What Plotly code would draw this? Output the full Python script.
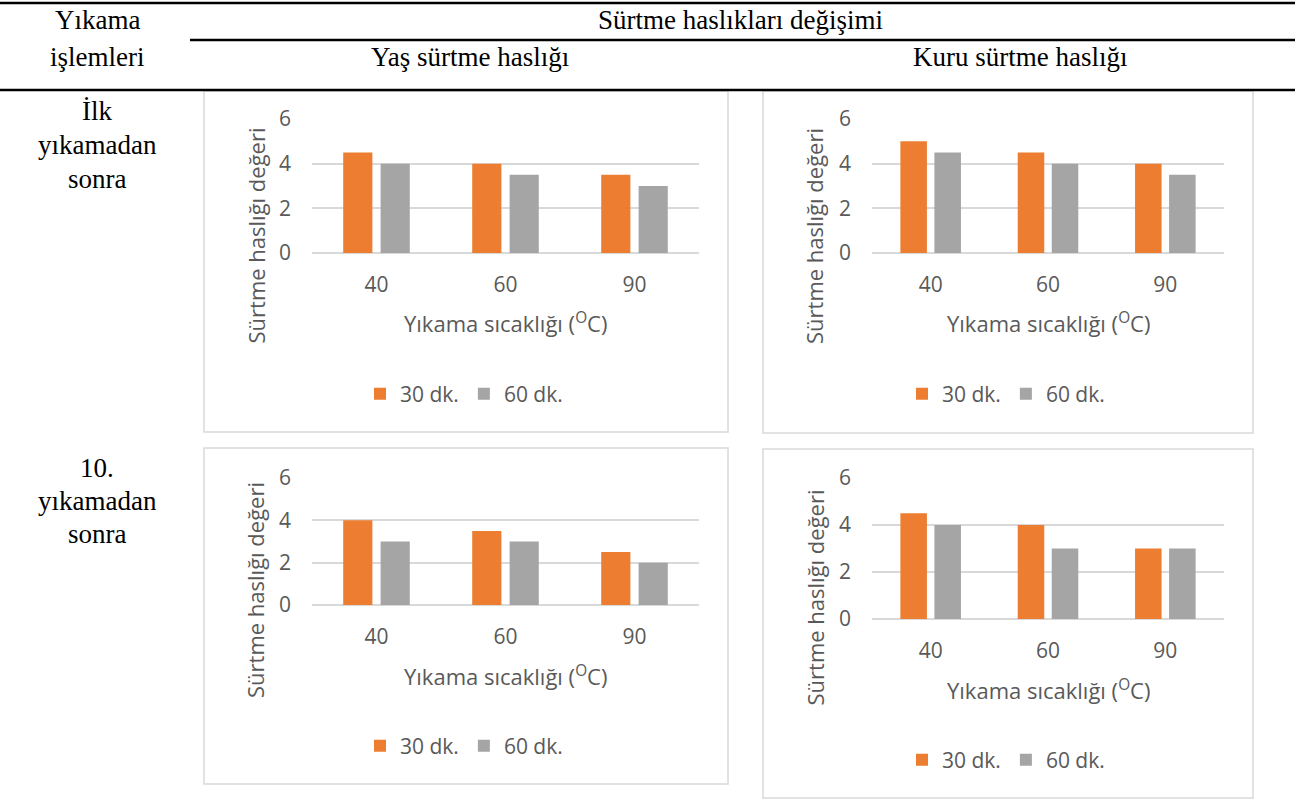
import plotly.graph_objects as go

# ---- data ----
temperatures = ["40", "60", "90"]
series_names = ["30 dk.", "60 dk."]

wet_first_30 = [4.5, 4.0, 3.5]
wet_first_60 = [4.0, 3.5, 3.0]
dry_first_30 = [5.0, 4.5, 4.0]
dry_first_60 = [4.5, 4.0, 3.5]
wet_tenth_30 = [4.0, 3.5, 2.5]
wet_tenth_60 = [3.0, 3.0, 2.0]
dry_tenth_30 = [4.5, 4.0, 3.0]
dry_tenth_60 = [4.0, 3.0, 3.0]

y_ticks = [0, 2, 4, 6]

# ---- styling ----
W, H = 1295, 807
ORANGE = "#ED7D31"
GREY = "#A5A5A5"
TEXT = "#595959"
GRID = "#D9D9D9"
CHART_FONT = "Open Sans"
TABLE_FONT = "Liberation Serif"


def px(x):
    return x / W


def py(y):
    return 1 - y / H


fig = go.Figure()

# panel: (axis suffix, legend id, values, x pixel span, y pixel span (top,bottom), box)
panels = [
    ("", "legend", wet_first_30, wet_first_60, (312, 699), (119, 253), (204, 91, 728, 432)),
    ("2", "legend2", dry_first_30, dry_first_60, (872, 1224), (119, 253), (763, 91, 1253, 433)),
    ("3", "legend3", wet_tenth_30, wet_tenth_60, (312, 699), (478, 605), (204, 448, 728, 784)),
    ("4", "legend4", dry_tenth_30, dry_tenth_60, (872, 1224), (478, 619), (763, 449, 1253, 798)),
]

shapes = []
annotations = []
layout_extra = {}

for suffix, leg, v30, v60, (x0, x1), (yt, yb), (bx0, by0, bx1, by1) in panels:
    xa = "x" + suffix
    ya = "y" + suffix
    for name, vals, col in ((series_names[0], v30, ORANGE), (series_names[1], v60, GREY)):
        fig.add_trace(go.Bar(
            x=temperatures, y=vals, name=name, marker_color=col,
            marker_line_width=0, xaxis=xa, yaxis=ya, legend=leg,
            hoverinfo="skip",
        ))

    layout_extra["xaxis" + suffix] = dict(
        domain=[px(x0), px(x1)], anchor=ya, type="category",
        showgrid=False, zeroline=False, showline=False, ticks="",
        tickfont=dict(family=CHART_FONT, size=21, color=TEXT),
        ticklabelstandoff=17,
    )
    layout_extra["yaxis" + suffix] = dict(
        domain=[py(yb), py(yt)], anchor=xa, range=[0, 6],
        tickvals=y_ticks, showgrid=True, gridcolor=GRID, gridwidth=1.5,
        zeroline=True, zerolinecolor=GRID, zerolinewidth=1.5,
        showline=False, ticks="",
        tickfont=dict(family=CHART_FONT, size=21, color=TEXT),
        ticklabelstandoff=20,
    )

    # chart frame
    shapes.append(dict(type="rect", xref="paper", yref="paper",
                       x0=px(bx0), x1=px(bx1), y0=py(by1), y1=py(by0),
                       line=dict(color=GRID, width=1.5), layer="below"))

    # axis titles
    annotations.append(dict(
        text="Yıkama sıcaklığı (<sup>O</sup>C)", xref="paper", yref="paper",
        x=px((x0 + x1) / 2), y=py(yb + 70), xanchor="center", yanchor="middle",
        showarrow=False, font=dict(family=CHART_FONT, size=22, color=TEXT)))
    annotations.append(dict(
        text="Sürtme haslığı değeri", xref="paper", yref="paper",
        x=px(bx0 + 51), y=py((by0 + by1) / 2 - 26), xanchor="center", yanchor="middle",
        textangle=-90, showarrow=False,
        font=dict(family=CHART_FONT, size=22, color=TEXT)))

    layout_extra[leg] = dict(
        orientation="h", xanchor="center", yanchor="middle",
        x=px((bx0 + bx1) / 2 - 2), y=py(yb + 141),
        font=dict(family=CHART_FONT, size=21, color=TEXT),
        bgcolor="rgba(0,0,0,0)", itemwidth=30, traceorder="normal",
    )

# table rules
shapes += [
    dict(type="line", xref="paper", yref="paper", x0=0, x1=1, y0=py(3), y1=py(3),
         line=dict(color="black", width=2.5)),
    dict(type="line", xref="paper", yref="paper", x0=px(190), x1=1, y0=py(40), y1=py(40),
         line=dict(color="black", width=2.5)),
    dict(type="line", xref="paper", yref="paper", x0=0, x1=1, y0=py(90), y1=py(90),
         line=dict(color="black", width=2.5)),
]

# table text
table_text = [
    ("Yıkama", 97, 20),
    ("işlemleri", 97, 57),
    ("Sürtme haslıkları değişimi", 741, 20),
    ("Yaş sürtme haslığı", 470, 57),
    ("Kuru sürtme haslığı", 1020, 57),
    ("İlk", 97, 111),
    ("yıkamadan", 97, 145),
    ("sonra", 97, 179),
    ("10.", 97, 468),
    ("yıkamadan", 97, 501),
    ("sonra", 97, 534),
]
for t, x, y in table_text:
    annotations.append(dict(
        text=t, xref="paper", yref="paper", x=px(x), y=py(y),
        xanchor="center", yanchor="middle", showarrow=False,
        font=dict(family=TABLE_FONT, size=27, color="black")))

fig.update_layout(
    width=W, height=H,
    margin=dict(l=0, r=0, t=0, b=0, pad=0, autoexpand=False),
    paper_bgcolor="white", plot_bgcolor="rgba(0,0,0,0)",
    barmode="group", bargap=0.42, bargroupgap=0.22,
    shapes=shapes, annotations=annotations, **layout_extra,
)

fig.write_html("out.html")
